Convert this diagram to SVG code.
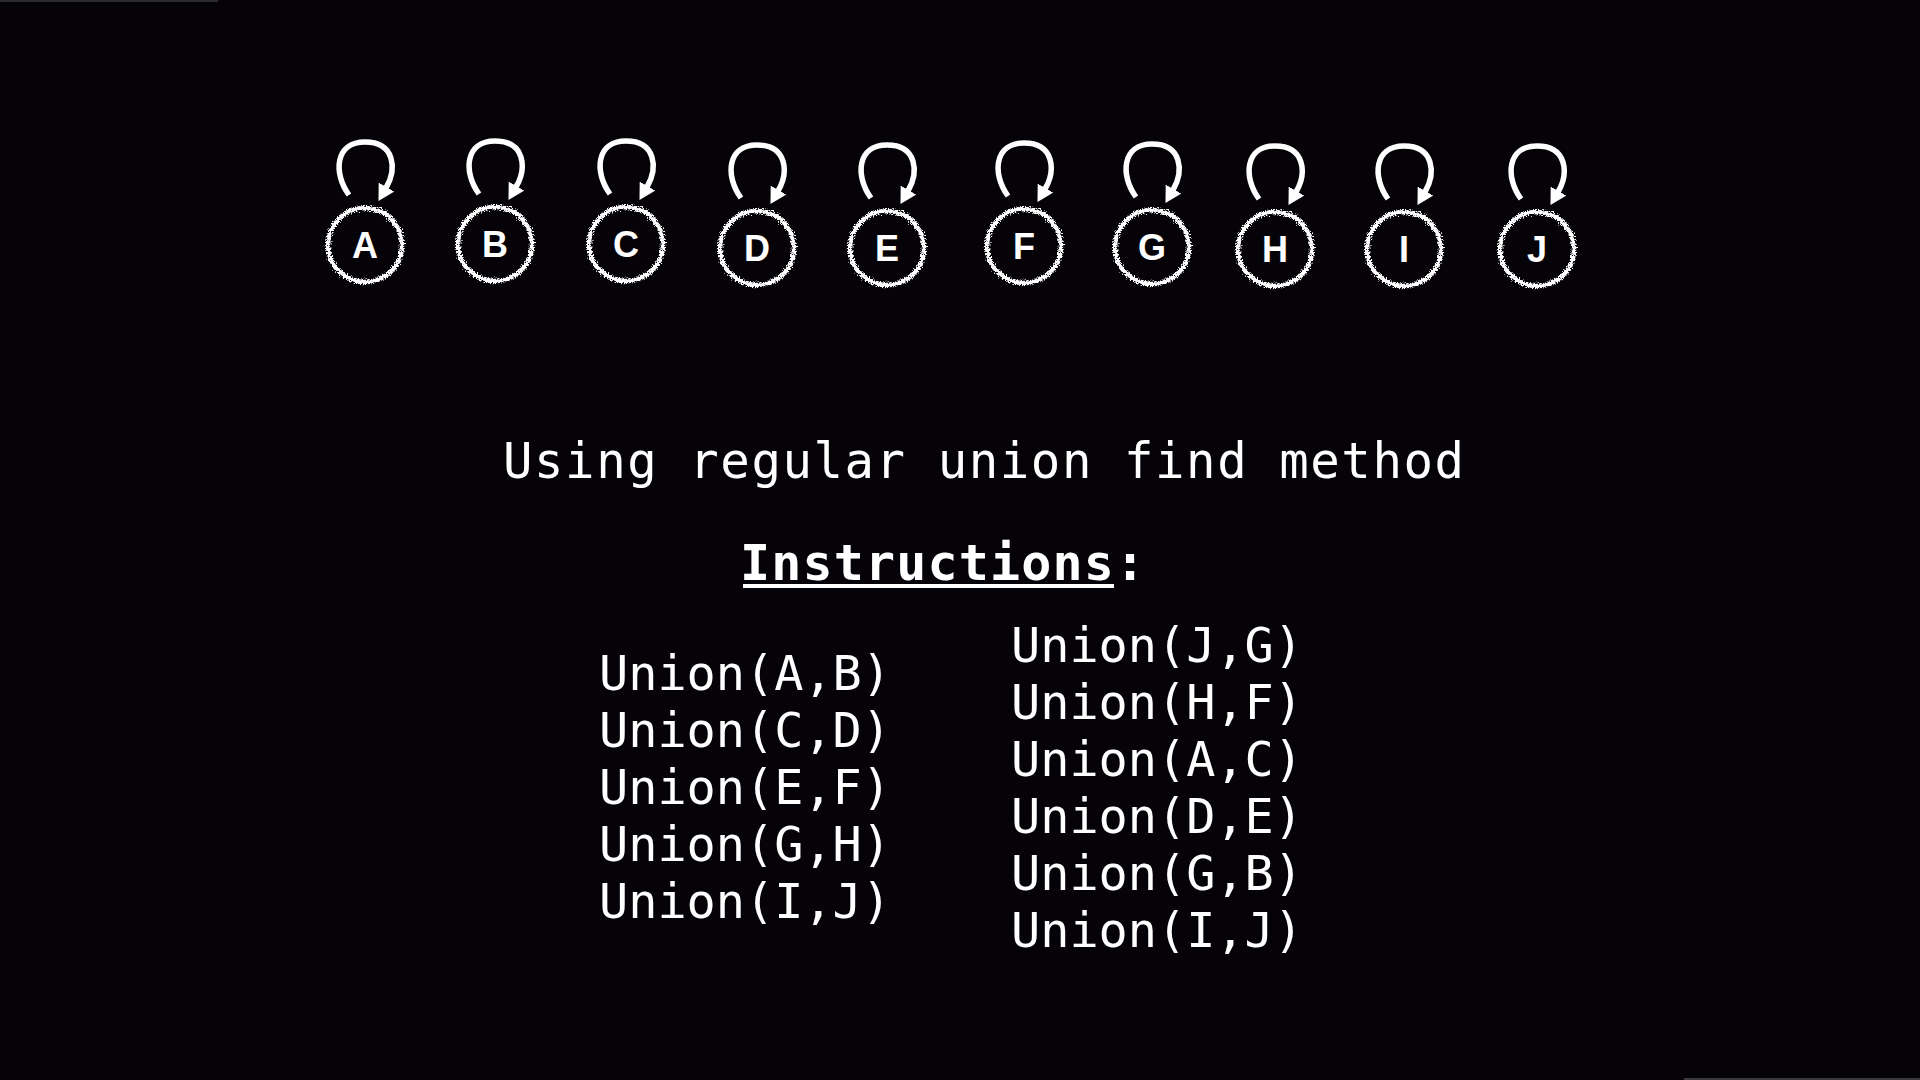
<svg xmlns="http://www.w3.org/2000/svg" width="1920" height="1080" viewBox="0 0 1920 1080">
  <style>
    .ring { fill: none; stroke: #ffffff; stroke-width: 4.5; filter: url(#rough); }
    .lbl { font-family: "Liberation Sans", Arial, sans-serif; font-weight: bold; font-size: 36px; fill: #ffffff; text-anchor: middle; }
    .loop { fill: none; stroke: #ffffff; stroke-width: 5.5; stroke-linecap: butt; marker-end: url(#head); }
    .mono { font-family: "DejaVu Sans Mono", "Liberation Mono", monospace; fill: #ffffff; }
    .title { font-size: 49px; }
    .head { font-size: 50px; font-weight: bold; }
    .op { font-size: 48.5px; }
  </style>
  <defs>
    <!-- ragged edge for the node rings -->
    <filter id="rough" x="-20%" y="-20%" width="140%" height="140%">
      <feTurbulence type="fractalNoise" baseFrequency="0.8" numOctaves="2" seed="7" result="noise"/>
      <feDisplacementMap in="SourceGraphic" in2="noise" scale="7" xChannelSelector="R" yChannelSelector="G"/>
    </filter>
    <marker id="head" markerUnits="userSpaceOnUse" viewBox="0 0 16 18" refX="1" refY="9" markerWidth="16" markerHeight="18" orient="auto">
      <path d="M0,0 L16,9 L0,18 z" fill="#ffffff"/>
    </marker>
    <path id="selfloop" d="M -16 -50 C -32 -72, -30 -103, 0 -103 C 30 -103, 32 -76, 21 -57"/>
  </defs>

  <rect width="1920" height="1080" fill="#050308"/>
  <rect x="0" y="0" width="218" height="2" fill="#2c2c30"/>
  <rect x="1684" y="1078" width="236" height="2" fill="#3a3a3c"/>

  <!-- self-pointing parent links -->
  <g id="connectors">
    <use href="#selfloop" class="loop" transform="translate(365,245)"/>
    <use href="#selfloop" class="loop" transform="translate(495,244)"/>
    <use href="#selfloop" class="loop" transform="translate(626,244)"/>
    <use href="#selfloop" class="loop" transform="translate(757,248)"/>
    <use href="#selfloop" class="loop" transform="translate(887,248)"/>
    <use href="#selfloop" class="loop" transform="translate(1024,246)"/>
    <use href="#selfloop" class="loop" transform="translate(1152,247)"/>
    <use href="#selfloop" class="loop" transform="translate(1275,249)"/>
    <use href="#selfloop" class="loop" transform="translate(1404,249)"/>
    <use href="#selfloop" class="loop" transform="translate(1537,249)"/>
  </g>

  <g id="node-A" transform="translate(365,245)"><circle class="ring" r="37"/><text class="lbl" y="13">A</text></g>
  <g id="node-B" transform="translate(495,244)"><circle class="ring" r="37"/><text class="lbl" y="13">B</text></g>
  <g id="node-C" transform="translate(626,244)"><circle class="ring" r="37"/><text class="lbl" y="13">C</text></g>
  <g id="node-D" transform="translate(757,248)"><circle class="ring" r="37"/><text class="lbl" y="13">D</text></g>
  <g id="node-E" transform="translate(887,248)"><circle class="ring" r="37"/><text class="lbl" y="13">E</text></g>
  <g id="node-F" transform="translate(1024,246)"><circle class="ring" r="37"/><text class="lbl" y="13">F</text></g>
  <g id="node-G" transform="translate(1152,247)"><circle class="ring" r="37"/><text class="lbl" y="13">G</text></g>
  <g id="node-H" transform="translate(1275,249)"><circle class="ring" r="37"/><text class="lbl" y="13">H</text></g>
  <g id="node-I" transform="translate(1404,249)"><circle class="ring" r="37"/><text class="lbl" y="13">I</text></g>
  <g id="node-J" transform="translate(1537,249)"><circle class="ring" r="37"/><text class="lbl" y="13">J</text></g>

  <text class="mono title" x="503" y="478" textLength="961">Using regular union find method</text>

  <text class="mono head" x="740" y="580" textLength="405">Instructions:</text>
  <rect x="743" y="584" width="371" height="4" fill="#ffffff"/>

  <g id="ops-left" class="mono op">
    <text x="599" y="690">Union(A,B)</text>
    <text x="599" y="747">Union(C,D)</text>
    <text x="599" y="804">Union(E,F)</text>
    <text x="599" y="861">Union(G,H)</text>
    <text x="599" y="918">Union(I,J)</text>
  </g>
  <g id="ops-right" class="mono op">
    <text x="1011" y="662">Union(J,G)</text>
    <text x="1011" y="719">Union(H,F)</text>
    <text x="1011" y="776">Union(A,C)</text>
    <text x="1011" y="833">Union(D,E)</text>
    <text x="1011" y="890">Union(G,B)</text>
    <text x="1011" y="947">Union(I,J)</text>
  </g>
</svg>
